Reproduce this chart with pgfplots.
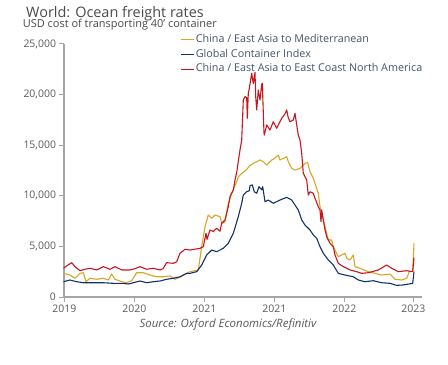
\documentclass[border=0pt]{standalone}
\usepackage{fontspec}
\setmainfont{Open Sans}
\usepackage{pgfplots}
\pgfplotsset{compat=1.18}
\definecolor{cgold}{HTML}{DCA424}
\definecolor{cnavy}{HTML}{10306E}
\definecolor{cred}{HTML}{C9151F}
\definecolor{caxis}{HTML}{A6A6A6}
\definecolor{ctick}{HTML}{595959}
\definecolor{clegend}{HTML}{44546A}
\definecolor{ctitle}{HTML}{4A4A4A}
\begin{document}
\begin{tikzpicture}
\begin{axis}[
  at={(0,0)}, anchor=south west,
  scale only axis, width=357.7bp, height=253bp,
  xmin=64, xmax=421.7, ymin=0, ymax=25000,
  axis lines=left,
  axis line style={caxis, line width=1.1bp, -},
  tick align=outside, major tick length=4.5bp,
  tick style={caxis, line width=1bp},
  xtick={64.3,134.3,204.3,274.3,344.3,413.3},
  xticklabels={2019,2020,2021,2021,2022,2023},
  ytick={0,5000,10000,15000,20000,25000},
  scaled y ticks=false,
  /pgf/number format/.cd, 1000 sep={,}, assume math mode=true,
  /pgfplots/.cd,
  ticklabel style={font=\fontsize{10.5}{12}\selectfont, text=ctick},
  legend style={at={(rel axis cs:0.325,1.046)}, anchor=north west,
    draw=none, fill=none, font=\fontsize{10.8}{12}\selectfont, text=clegend,
    row sep=0bp, inner sep=0pt, outer sep=0pt,
    nodes={inner sep=1.5bp, text height=8.5bp, text depth=3.2bp}},
  legend cell align=left,
  legend image code/.code={\draw[#1] (0bp,0bp) -- (13bp,0bp);},
  every axis plot/.append style={line width=1.1bp, line join=round},
  clip=false,
]
\addplot[cgold] coordinates {
(63.5,2340)(70,2170)(75,1850)(80,2340)(83.3,2400)(86,1510)(90,1850)(96.7,1750)(103.3,1850)(108.3,1680)(111.7,2270)(115,1750)(121.7,1510)(126.7,1410)(131.7,1610)(136.7,2400)(143.3,2400)(150,2170)(156.7,2000)(163.3,2000)(170,2080)(175,1750)(180,1950)(186.7,2340)(190,2500)(198.3,2670)(201.7,4970)(205,6950)(208.3,8100)(211.7,7780)(215,8100)(220,7940)(221.7,7280)(225,7440)(228.3,9260)(231.7,10250)(236.7,11400)(238.3,11890)(241.7,12200)(246.7,12600)(249.3,12940)(253.3,13210)(256.7,13370)(260,13540)(263.3,13370)(266.7,13040)(271.7,13540)(273.3,13600)(278.3,14030)(280,13540)(283.3,13700)(286.7,13860)(288.3,13370)(291.7,12710)(295,12550)(300,12710)(305,13210)(307.7,13270)(310,12380)(313.3,11730)(316.7,10740)(318.3,10250)(320,8920)(321.7,8270)(323.3,7610)(326.7,6290)(328.3,5630)(331.7,5630)(333.3,4970)(335,4640)(338.3,3980)(341.7,4150)(345,4320)(346.7,3820)(350,3660)(353.3,4150)(355,3000)(360,2840)(368.3,2500)(375,2340)(381.7,2170)(390,2270)(395,1750)(401.7,1680)(406.7,1850)(409.3,2500)(412.7,2550)(414,5300)
};
\addlegendentry{China / East Asia to Mediterranean}
\addplot[cnavy] coordinates {
(63.5,1510)(70,1680)(76.7,1510)(83.3,1410)(93.3,1410)(103.3,1410)(113.3,1350)(123.3,1350)(128.3,1280)(133.3,1410)(140,1580)(146.7,1410)(153.3,1510)(160,1580)(166.7,1750)(173.3,1850)(180,2000)(186.7,2340)(190,2340)(196.7,2500)(201.7,3160)(206.7,4150)(211.7,4640)(216.7,4480)(223.3,4810)(228.3,5300)(233.3,6290)(238.3,7940)(241.7,9260)(243.3,10080)(246.7,10400)(249.3,10500)(250,11000)(252.3,11070)(254.3,10400)(256.7,10250)(259,10900)(261.7,10600)(262.7,10900)(265,9420)(268.3,9580)(273.3,9260)(280,9580)(286.7,9850)(291.7,9580)(295,9090)(298.3,8600)(301.7,7610)(305,7110)(310,6620)(313.3,6130)(316.7,5800)(320,4970)(323.3,4320)(328.3,3660)(333.3,3160)(338.3,2340)(345,2170)(353.3,2000)(358.3,1680)(365,1510)(373.3,1610)(381.7,1410)(390,1350)(396.7,1150)(403.3,1190)(410,1300)(412.7,1350)(414,2500)
};
\addlegendentry{Global Container Index}
\addplot[cred] coordinates {
(63.5,2840)(67,3100)(71.7,3390)(75,3000)(80,2600)(85,2740)(90,2840)(96.7,2670)(103.3,3000)(110,2740)(115,3000)(121.7,2670)(130,2670)(135,2800)(140,3000)(146.7,2740)(153.3,2840)(160,2670)(163,2800)(166.7,3390)(173.3,3330)(176.7,3490)(180,4320)(185,4710)(190,4640)(200,4810)(203.3,4970)(205,5800)(206,6290)(207,5700)(210,6620)(213.3,6460)(216.7,6790)(220,6500)(221.7,7280)(225,7610)(228.3,8920)(230,9910)(233.3,10570)(235,11560)(236.7,12300)(240,14530)(241.7,15500)(243.3,19470)(245,19800)(246.7,19700)(247.3,17660)(248.3,20130)(249.3,20620)(251.7,22100)(253.3,21100)(255,22200)(255.7,19800)(256.7,18480)(258.3,20450)(260,19470)(261.7,21000)(262.3,21120)(264,16200)(264.3,16000)(266.7,17000)(270,16500)(273.3,17320)(276.7,16670)(281.7,17660)(285,18100)(286.7,18480)(288.3,17700)(290,17320)(293.3,17490)(295,18150)(296.7,17000)(298.3,16000)(300,15510)(301.7,14200)(303.3,12220)(306.7,11560)(308.3,10080)(310,10400)(313.3,10250)(315,9750)(318.3,8920)(320,8600)(321,7440)(321.7,8600)(323.3,7610)(325,6620)(326.7,5960)(330,5300)(333.3,4970)(335,4150)(338.3,3330)(343.3,3000)(350,2670)(356.7,2500)(361.7,2340)(368.3,2400)(378.3,2670)(386.7,3160)(391.7,2840)(398.3,2500)(406.7,2600)(412.7,2500)(414,3900)
};
\addlegendentry{China / East Asia to East Coast North America}
\end{axis}
\node[anchor=base west, inner sep=0pt, text=ctitle, font=\fontsize{14.5}{16}\selectfont] at (-38bp,279.5bp) {World: Ocean freight rates};
\node[anchor=base west, inner sep=0pt, text=ctitle, font=\fontsize{11}{13}\selectfont] at (-41.3bp,269bp) {USD cost of transporting 40' container};
\node[anchor=base, inner sep=0pt, text=ctick, font=\fontsize{11.5}{13}\selectfont\itshape] at (164bp,-30bp) {Source: Oxford Economics/Refinitiv};
\useasboundingbox (-64bp,-68bp) rectangle (384bp,297bp);
\end{tikzpicture}
\end{document}
